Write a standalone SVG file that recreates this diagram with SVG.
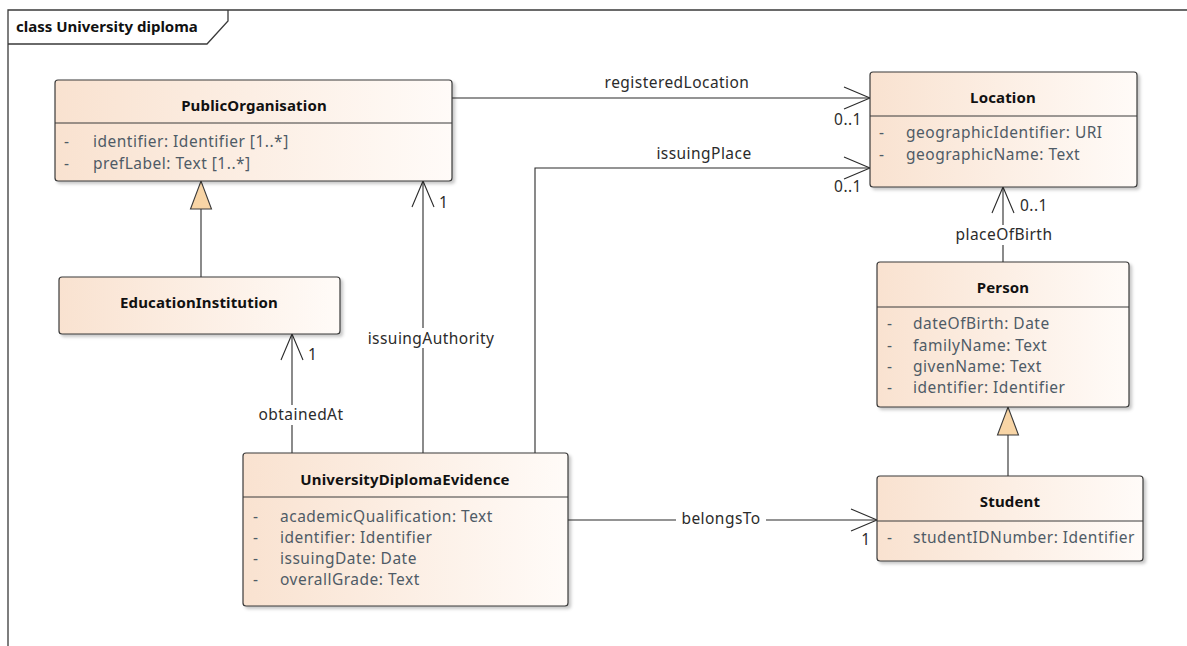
<svg xmlns="http://www.w3.org/2000/svg" width="1187" height="646" viewBox="0 0 1187 646">
<style>
.frame{fill:none;stroke:#3a3a3a;stroke-width:1.3}
.box{fill:url(#grad);stroke:#3a3a3a;stroke-width:1.2;filter:url(#shadow)}
.div{stroke:#3a3a3a;stroke-width:1}
.title{font-family:"Noto Sans","Open Sans",sans-serif;font-size:15px;font-weight:bold;fill:#111;text-anchor:middle;letter-spacing:0.15px}
.attr{font-family:"Noto Sans","Open Sans",sans-serif;font-size:15.5px;fill:#4f5b66;letter-spacing:0.5px}
.lbl{font-family:"Noto Sans","Open Sans",sans-serif;font-size:15.5px;fill:#2b2b2b;letter-spacing:0.45px}
.mid{text-anchor:middle}
.conn{fill:none;stroke:#2b2b2b;stroke-width:1.1}
.bg{fill:#fff}
.ftitle{font-family:"Noto Sans","Open Sans",sans-serif;font-size:15px;font-weight:bold;fill:#111}
</style>
<defs>
<linearGradient id="grad" x1="0" y1="0" x2="1" y2="0">
<stop offset="0" stop-color="#F9E2D0"/>
<stop offset="1" stop-color="#FFFBF8"/>
</linearGradient>
<filter id="shadow" x="-5%" y="-5%" width="115%" height="125%">
<feDropShadow dx="2.5" dy="2.5" stdDeviation="1.5" flood-color="#000" flood-opacity="0.22"/>
</filter>
<marker id="open" markerWidth="30" markerHeight="24" refX="26" refY="11" orient="auto" markerUnits="userSpaceOnUse" overflow="visible">
<path d="M0 0 L26 11 L0 22" fill="none" stroke="#2b2b2b" stroke-width="1.1"/>
</marker>
<marker id="gen" markerWidth="30" markerHeight="24" refX="28" refY="10.5" orient="auto" markerUnits="userSpaceOnUse" overflow="visible">
<path d="M0 0 L28 10.5 L0 21 Z" fill="#F8D5A6" stroke="#3a3a3a" stroke-width="1.1"/>
</marker>
</defs>
<rect width="1187" height="646" fill="#fff"/>
<g id="frame">
<path class="frame" d="M8 646 V10 H1187"/>
<path class="frame" d="M8 44 H207 L228 21 V10"/>
<text class="ftitle" x="16" y="32">class University diploma</text>
</g>
<g id="connectors">
<path class="conn" d="M452 98 H870" marker-end="url(#open)"/>
<text class="lbl mid" x="677" y="88">registeredLocation</text>
<text class="lbl mid" x="848" y="125">0..1</text>
<path class="conn" d="M535 453 V168 H870" marker-end="url(#open)"/>
<text class="lbl mid" x="704" y="159">issuingPlace</text>
<text class="lbl mid" x="848" y="192">0..1</text>
<path class="conn" d="M423 453 V181" marker-end="url(#open)"/>
<rect class="bg" x="362" y="328" width="138" height="20"/>
<text class="lbl mid" x="431" y="344">issuingAuthority</text>
<text class="lbl" x="439" y="208">1</text>
<path class="conn" d="M292 453 V334" marker-end="url(#open)"/>
<rect class="bg" x="248" y="405" width="106" height="20"/>
<text class="lbl mid" x="301" y="420">obtainedAt</text>
<text class="lbl" x="308" y="360">1</text>
<path class="conn" d="M1003 262 V187" marker-end="url(#open)"/>
<rect class="bg" x="948" y="225" width="114" height="20"/>
<text class="lbl mid" x="1004" y="240">placeOfBirth</text>
<text class="lbl" x="1020" y="211">0..1</text>
<path class="conn" d="M568 520 H877" marker-end="url(#open)"/>
<rect class="bg" x="676" y="510" width="90" height="18"/>
<text class="lbl mid" x="721" y="524">belongsTo</text>
<text class="lbl mid" x="866" y="545">1</text>
<path class="conn" d="M201 277 V181" marker-end="url(#gen)"/>
<path class="conn" d="M1008 476 V407" marker-end="url(#gen)"/>
</g>
<g id="PublicOrganisation">
<rect class="box" x="55" y="80" width="397" height="101" rx="3"/>
<line class="div" x1="55" y1="123" x2="452" y2="123"/>
<text class="title" x="254" y="111">PublicOrganisation</text>
<text class="attr" x="64" y="147">-</text><text class="attr" x="93" y="147">identifier: Identifier [1..*]</text>
<text class="attr" x="64" y="169">-</text><text class="attr" x="93" y="169">prefLabel: Text [1..*]</text>
</g>
<g id="Location">
<rect class="box" x="870" y="72" width="267" height="115" rx="3"/>
<line class="div" x1="870" y1="116" x2="1137" y2="116"/>
<text class="title" x="1003" y="103">Location</text>
<text class="attr" x="879" y="138">-</text><text class="attr" x="906" y="138">geographicIdentifier: URI</text>
<text class="attr" x="879" y="160">-</text><text class="attr" x="906" y="160">geographicName: Text</text>
</g>
<g id="EducationInstitution">
<rect class="box" x="59" y="277" width="281" height="57" rx="3"/>
<text class="title" x="199" y="308">EducationInstitution</text>
</g>
<g id="UniversityDiplomaEvidence">
<rect class="box" x="243" y="453" width="325" height="153" rx="3"/>
<line class="div" x1="243" y1="497" x2="568" y2="497"/>
<text class="title" x="405" y="485">UniversityDiplomaEvidence</text>
<text class="attr" x="253" y="522">-</text><text class="attr" x="280" y="522">academicQualification: Text</text>
<text class="attr" x="253" y="543">-</text><text class="attr" x="280" y="543">identifier: Identifier</text>
<text class="attr" x="253" y="564">-</text><text class="attr" x="280" y="564">issuingDate: Date</text>
<text class="attr" x="253" y="585">-</text><text class="attr" x="280" y="585">overallGrade: Text</text>
</g>
<g id="Person">
<rect class="box" x="877" y="262" width="252" height="145" rx="3"/>
<line class="div" x1="877" y1="307" x2="1129" y2="307"/>
<text class="title" x="1003" y="293">Person</text>
<text class="attr" x="887" y="329">-</text><text class="attr" x="913" y="329">dateOfBirth: Date</text>
<text class="attr" x="887" y="351">-</text><text class="attr" x="913" y="351">familyName: Text</text>
<text class="attr" x="887" y="372">-</text><text class="attr" x="913" y="372">givenName: Text</text>
<text class="attr" x="887" y="393">-</text><text class="attr" x="913" y="393">identifier: Identifier</text>
</g>
<g id="Student">
<rect class="box" x="877" y="476" width="266" height="85" rx="3"/>
<line class="div" x1="877" y1="521" x2="1143" y2="521"/>
<text class="title" x="1010" y="507">Student</text>
<text class="attr" x="887" y="543">-</text><text class="attr" x="913" y="543">studentIDNumber: Identifier</text>
</g>
</svg>
